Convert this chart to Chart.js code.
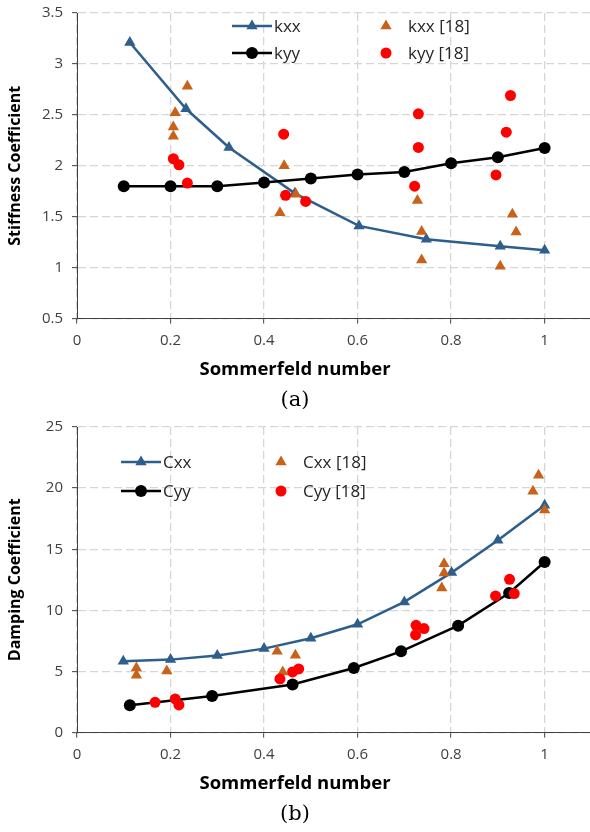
<!DOCTYPE html>
<html>
<head>
<meta charset="utf-8">
<script src="https://cdn.jsdelivr.net/npm/chart.js@4.4.1/dist/chart.umd.min.js"></script>
<style>
  html, body { margin: 0; padding: 0; background: #fff; }
  .panel { position: absolute; left: 0; width: 590px; height: 414px; }
  #stiffness-panel { top: 0; }
  #damping-panel { top: 414px; }
</style>
</head>
<body>
<div class="panel" id="stiffness-panel"><canvas id="stiffness" width="590" height="414"></canvas></div>
<div class="panel" id="damping-panel"><canvas id="damping" width="590" height="414"></canvas></div>
<script>
// Sommerfeld number ticks shared by both panels
const xTicks = [0, 0.2, 0.4, 0.6, 0.8, 1];

// (a) stiffness coefficients
const stiffnessTicks = [0.5, 1, 1.5, 2, 2.5, 3, 3.5];
const kxxS = [0.113, 0.233, 0.325, 0.466, 0.603, 0.747, 0.905, 1.0];
const kxxVal = [3.21, 2.56, 2.18, 1.73, 1.41, 1.28, 1.21, 1.17];
const kyyS = [0.1, 0.2, 0.3, 0.4, 0.5, 0.6, 0.7, 0.8, 0.9, 1.0];
const kyyVal = [1.80, 1.80, 1.80, 1.835, 1.875, 1.915, 1.94, 2.025, 2.085, 2.175];
const kxxRefS = [0.236, 0.210, 0.206, 0.206, 0.443, 0.468, 0.434, 0.728, 0.737, 0.737, 0.905, 0.931, 0.939];
const kxxRefVal = [2.78, 2.52, 2.38, 2.29, 2.0, 1.72, 1.54, 1.66, 1.355, 1.075, 1.015, 1.525, 1.35];
const kyyRefS = [0.442, 0.206, 0.218, 0.236, 0.446, 0.489, 0.730, 0.730, 0.722, 0.927, 0.918, 0.896];
const kyyRefVal = [2.31, 2.07, 2.01, 1.83, 1.71, 1.65, 2.51, 2.18, 1.80, 2.69, 2.33, 1.91];

// (b) damping coefficients
const dampingTicks = [0, 5, 10, 15, 20, 25];
const cxxS = [0.099, 0.2, 0.3, 0.4, 0.5, 0.6, 0.7, 0.801, 0.9, 1.0];
const cxxVal = [5.83, 5.97, 6.30, 6.87, 7.72, 8.86, 10.69, 13.09, 15.73, 18.6];
const cyyS = [0.113, 0.289, 0.461, 0.592, 0.693, 0.815, 0.924, 1.0];
const cyyVal = [2.24, 3.0, 3.93, 5.29, 6.65, 8.75, 11.42, 13.96];
const cxxRefS = [0.127, 0.127, 0.192, 0.428, 0.467, 0.440, 0.785, 0.785, 0.780, 0.987, 0.975, 1.0];
const cxxRefVal = [5.29, 4.69, 5.04, 6.65, 6.32, 4.96, 13.82, 13.06, 11.83, 21.05, 19.75, 18.2];
const cyyRefS = [0.167, 0.210, 0.218, 0.434, 0.461, 0.474, 0.725, 0.742, 0.724, 0.895, 0.925, 0.935];
const cyyRefVal = [2.48, 2.75, 2.26, 4.39, 4.96, 5.21, 8.78, 8.51, 7.99, 11.18, 12.54, 11.37];

const BLUE = "#2d5e8c";
const BLACK = "#000000";
const ORANGE = "#c8621a";
const RED = "#ff0000";
const AXIS = "#404040";
const GRID = "#d6d6d6";
const FONT = "'Open Sans', sans-serif";

function pairs(xs, ys) {
  return xs.map((x, i) => ({ x, y: ys[i] }));
}

function lineSeries(label, xs, ys, color, style, radius, order) {
  return {
    label,
    data: pairs(xs, ys),
    showLine: true,
    borderColor: color,
    borderWidth: 2.5,
    backgroundColor: color,
    pointBackgroundColor: color,
    pointStyle: style,
    pointRadius: radius,
    pointBorderWidth: 0,
    order,
  };
}

function refSeries(label, xs, ys, color, style, radius, order) {
  return {
    label,
    data: pairs(xs, ys),
    showLine: false,
    backgroundColor: color,
    pointBackgroundColor: color,
    pointStyle: style,
    pointRadius: radius,
    pointBorderWidth: 0,
    order,
  };
}

// legend drawn inside the plot area, two columns
const insideLegend = {
  id: "insideLegend",
  afterDatasetsDraw(chart, args, opts) {
    const { ctx, chartArea } = chart;
    ctx.save();
    ctx.font = `17px ${FONT}`;
    ctx.textBaseline = "middle";
    opts.items.forEach((item) => {
      const ds = chart.data.datasets[item.index];
      const x = chartArea.left + item.x;
      const y = chartArea.top + item.y;
      if (ds.showLine) {
        ctx.strokeStyle = ds.borderColor;
        ctx.lineWidth = ds.borderWidth;
        ctx.beginPath();
        ctx.moveTo(x - 20, y);
        ctx.lineTo(x + 20, y);
        ctx.stroke();
      }
      ctx.fillStyle = ds.pointBackgroundColor;
      Chart.helpers.drawPoint(
        ctx,
        { pointStyle: ds.pointStyle, radius: ds.pointRadius, rotation: 0, borderWidth: 0 },
        x,
        y,
      );
      ctx.fillStyle = "#262626";
      ctx.fillText(ds.label, x + 22, y + 1);
    });
    ctx.restore();
  },
};

function buildOptions({ yTitle, yMin, yMax, yTicks, caption, legendItems }) {
  return {
    responsive: false,
    animation: false,
    events: [],
    layout: { autoPadding: false, padding: { top: 13, right: 0, bottom: 1, left: 0 } },
    scales: {
      x: {
        type: "linear",
        min: 0,
        max: 1.097,
        afterBuildTicks: (scale) => {
          scale.ticks = xTicks.map((value) => ({ value }));
        },
        afterFit: (scale) => {
          scale.height = 40;
          scale.paddingLeft = 0;
          scale.paddingRight = 0;
        },
        grid: { color: GRID, lineWidth: 1.3, tickColor: AXIS, tickLength: 5, tickWidth: 1 },
        border: { color: AXIS, width: 1, dash: [8, 4] },
        ticks: {
          color: AXIS,
          padding: 8,
          font: { family: FONT, size: 15 },
          callback: (v) => String(v),
        },
      },
      y: {
        type: "linear",
        min: yMin,
        max: yMax,
        afterBuildTicks: (scale) => {
          scale.ticks = yTicks.map((value) => ({ value }));
        },
        afterFit: (scale) => {
          scale.width = 77;
          scale.paddingTop = 0;
          scale.paddingBottom = 0;
        },
        grid: { color: GRID, lineWidth: 1.3, tickColor: AXIS, tickLength: 5, tickWidth: 1 },
        border: { color: AXIS, width: 1, dash: [8, 4] },
        ticks: {
          color: AXIS,
          padding: 9,
          font: { family: FONT, size: 15 },
          callback: (v) => String(v),
        },
        title: {
          display: true,
          text: yTitle,
          color: "#000",
          font: { family: FONT, size: 16, weight: "bold" },
          padding: { top: 6, bottom: 0 },
        },
      },
    },
    plugins: {
      legend: { display: false },
      tooltip: { enabled: false },
      title: {
        display: true,
        position: "bottom",
        weight: 1000,
        text: "Sommerfeld number",
        color: "#000",
        font: { family: FONT, size: 18.5, weight: "bold" },
        padding: { top: 0, bottom: 1 },
      },
      subtitle: {
        display: true,
        position: "bottom",
        weight: 1500,
        text: caption,
        color: "#000",
        font: { family: "'DejaVu Serif', serif", size: 21, weight: "normal" },
        padding: { top: 6, bottom: 0 },
      },
      insideLegend: { items: legendItems },
    },
  };
}

new Chart(document.getElementById("stiffness"), {
  type: "scatter",
  data: {
    datasets: [
      lineSeries("kxx", kxxS, kxxVal, BLUE, "triangle", 6.5, 4),
      lineSeries("kyy", kyyS, kyyVal, BLACK, "circle", 6, 3),
      refSeries("kxx [18]", kxxRefS, kxxRefVal, ORANGE, "triangle", 6.5, 2),
      refSeries("kyy [18]", kyyRefS, kyyRefVal, RED, "circle", 5.5, 1),
    ],
  },
  options: buildOptions({
    yTitle: "Stiffness Coefficient",
    yMin: 0.5,
    yMax: 3.5,
    yTicks: stiffnessTicks,
    caption: "(a)",
    legendItems: [
      { index: 0, x: 175, y: 13 },
      { index: 1, x: 175, y: 40 },
      { index: 2, x: 309, y: 13 },
      { index: 3, x: 309, y: 40 },
    ],
  }),
  plugins: [insideLegend],
});

new Chart(document.getElementById("damping"), {
  type: "scatter",
  data: {
    datasets: [
      lineSeries("Cxx", cxxS, cxxVal, BLUE, "triangle", 6.5, 4),
      lineSeries("Cyy", cyyS, cyyVal, BLACK, "circle", 6, 3),
      refSeries("Cxx [18]", cxxRefS, cxxRefVal, ORANGE, "triangle", 6.5, 2),
      refSeries("Cyy [18]", cyyRefS, cyyRefVal, RED, "circle", 5.5, 1),
    ],
  },
  options: buildOptions({
    yTitle: "Damping Coefficient",
    yMin: 0,
    yMax: 25,
    yTicks: dampingTicks,
    caption: "(b)",
    legendItems: [
      { index: 0, x: 64, y: 35 },
      { index: 1, x: 64, y: 64 },
      { index: 2, x: 204, y: 35 },
      { index: 3, x: 204, y: 64 },
    ],
  }),
  plugins: [insideLegend],
});
</script>
</body>
</html>
